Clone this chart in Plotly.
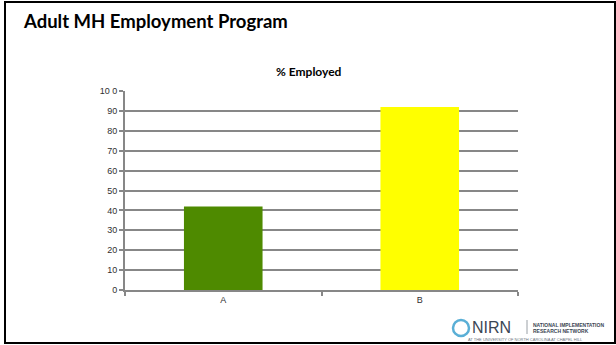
import plotly.graph_objects as go

categories = ["A", "B"]
values = [42, 92]
y_tick_vals = [0, 10, 20, 30, 40, 50, 60, 70, 80, 90, 100]
y_tick_text = ["0", "10", "20", "30", "40", "50", "60", "70", "80", "90", "10 0"]
bar_colors = ["#4E8A00", "#FFFF00"]

W, H = 616, 345
L, R, T, B = 125, 616 - 518, 91, 345 - 290
PW, PH = W - L - R, H - T - B

def px(x):
    return (x - L) / PW

def py(y):
    return (H - B - y) / PH

fig = go.Figure()
fig.add_trace(go.Bar(x=categories, y=values, marker=dict(color=bar_colors, line=dict(width=0)),
                     width=0.4, hoverinfo="skip"))

grid = "#878787"
fig.update_layout(
    width=W, height=H,
    margin=dict(l=L, r=R, t=T, b=B),
    plot_bgcolor="white", paper_bgcolor="white",
    showlegend=False,
    title=dict(text="<b>Adult MH Employment Program</b>", x=24 / W, xanchor="left",
               y=1 - 22 / H, yanchor="middle", xref="container", yref="container",
               font=dict(family="Lato", size=18.5, color="black")),
    xaxis=dict(showgrid=False, showline=True, linecolor=grid, linewidth=2,
               ticks="outside", tickson="boundaries", ticklen=4, tickcolor=grid, tickwidth=2,
               tickfont=dict(family="Liberation Sans", size=9, color="#303030"), fixedrange=True),
    yaxis=dict(range=[0, 100], tickvals=y_tick_vals, ticktext=y_tick_text,
               showgrid=True, gridcolor=grid, gridwidth=2, zeroline=False,
               showline=True, linecolor=grid, linewidth=2,
               ticks="outside", ticklen=4, tickcolor=grid, tickwidth=2,
               tickfont=dict(family="Liberation Sans", size=9, color="#303030"), fixedrange=True),
    shapes=[
        dict(type="rect", xref="paper", yref="paper", x0=px(5), x1=px(615), y0=py(343), y1=py(2),
             line=dict(color="black", width=2), fillcolor="rgba(0,0,0,0)", layer="above"),
        dict(type="circle", xref="paper", yref="paper", x0=px(453), x1=px(469), y0=py(336), y1=py(320),
             line=dict(color="#5AAFD6", width=2.5), fillcolor="rgba(0,0,0,0)"),
        dict(type="line", xref="paper", yref="paper", x0=px(527), x1=px(527), y0=py(334), y1=py(320),
             line=dict(color="#9aa0a6", width=1)),
    ],
    annotations=[
        dict(text="<b>% Employed</b>", xref="paper", yref="paper", x=px(309), y=py(72),
             xanchor="center", yanchor="middle", showarrow=False,
             font=dict(family="Lato", size=12, color="black")),
        dict(text="NIRN", xref="paper", yref="paper", x=px(470), y=py(327.5),
             xanchor="left", yanchor="middle", showarrow=False,
             font=dict(family="Liberation Sans", size=16, color="#3b4654")),
        dict(text="<b>NATIONAL IMPLEMENTATION</b>", xref="paper", yref="paper", x=px(531), y=py(324.5),
             xanchor="left", yanchor="middle", showarrow=False,
             font=dict(family="Liberation Sans", size=5, color="#3b4654")),
        dict(text="<b>RESEARCH NETWORK</b>", xref="paper", yref="paper", x=px(531), y=py(331),
             xanchor="left", yanchor="middle", showarrow=False,
             font=dict(family="Liberation Sans", size=5, color="#3b4654")),
        dict(text="AT THE UNIVERSITY OF NORTH CAROLINA AT CHAPEL HILL", xref="paper", yref="paper",
             x=px(525), y=py(339), xanchor="center", yanchor="middle", showarrow=False,
             font=dict(family="Liberation Sans", size=4, color="#6b7580")),
    ],
)

fig.write_html("out.html")
